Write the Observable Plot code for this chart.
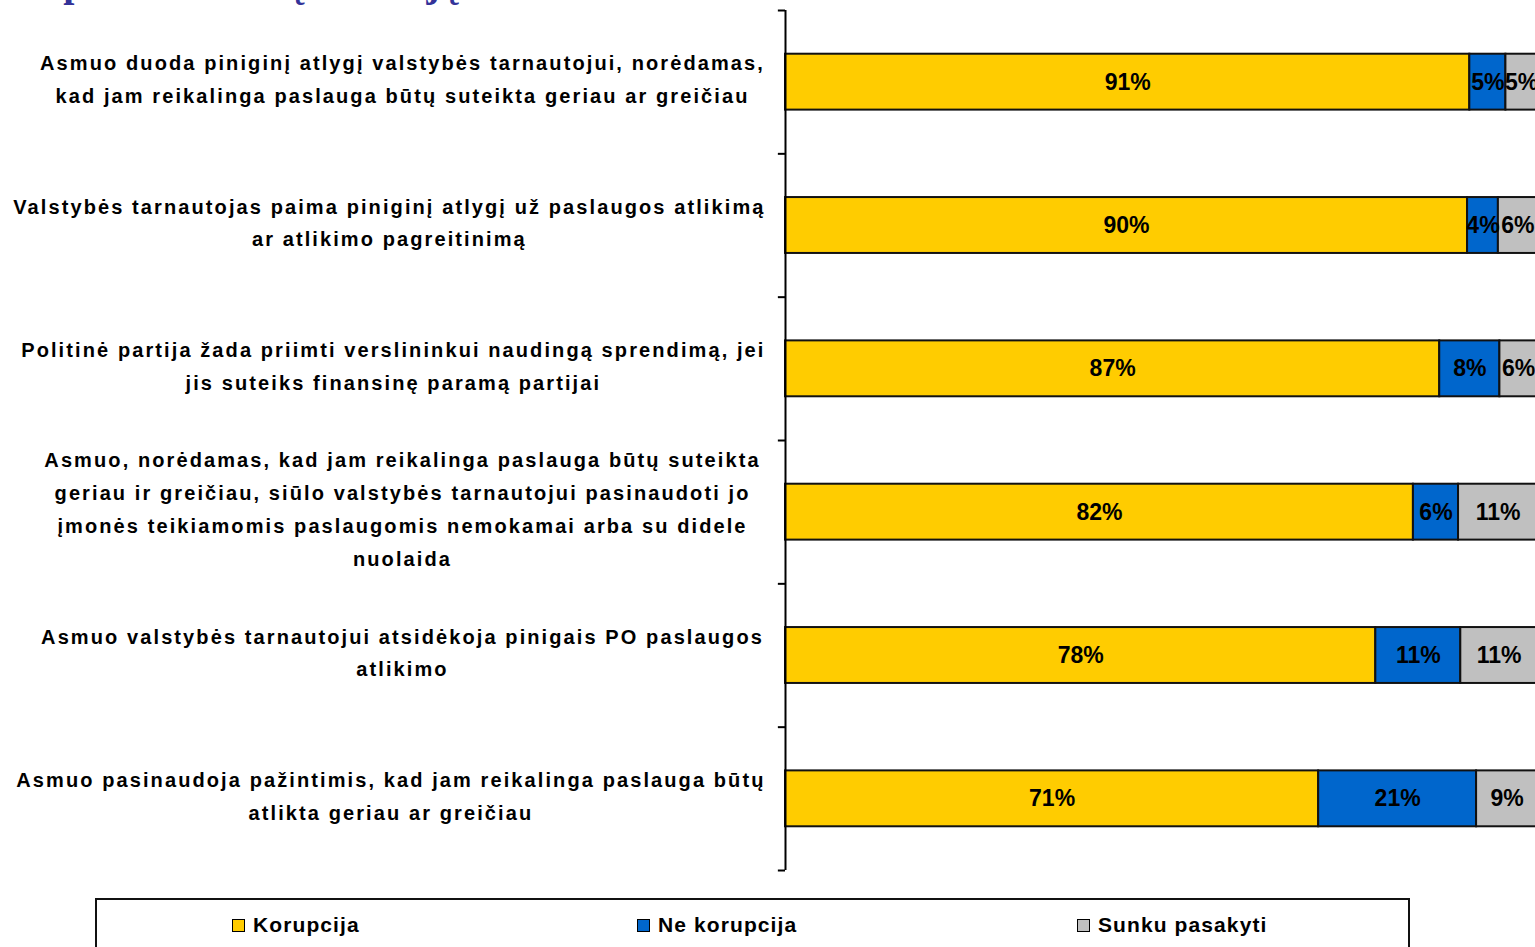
<!DOCTYPE html>
<html>
<head>
<meta charset="utf-8">
<script src="https://cdn.jsdelivr.net/npm/d3@7"></script>
<script src="https://cdn.jsdelivr.net/npm/@observablehq/plot@0.6"></script>
<style>
  html, body { margin: 0; padding: 0; background: #fff; overflow: hidden; }
  #wrap { position: relative; width: 1535px; height: 947px; overflow: hidden; font-family: "Liberation Sans", Arial, sans-serif; }
  #title { position: absolute; left: 1px; top: -37px; font: bold 40px/40px "Liberation Serif", "Times New Roman", serif; color: #333399; white-space: nowrap; }
  #chart { position: absolute; left: 0; top: 0; }
  #chart svg { overflow: visible; }
  #legend { position: absolute; left: 95px; top: 898px; width: 1315px; height: 80px; border: 2px solid #111; box-sizing: border-box; }
  .item { position: absolute; top: 13px; height: 24px; display: flex; align-items: center; font-weight: bold; font-size: 21px; letter-spacing: 1.1px; color: #000; white-space: nowrap; }
  .swatch { width: 11px; height: 11px; border: 1.5px solid #000; margin-right: 8px; }
</style>
</head>
<body>
<div id="wrap">
  <div id="title"></div>
  <div id="chart"></div>
  <div id="legend"></div>
</div>
<script>
const titleText = "Kaip vertinate šią situaciją?";

const categories = [
  "Asmuo duoda piniginį atlygį valstybės tarnautojui, norėdamas,\nkad jam reikalinga paslauga būtų suteikta geriau ar greičiau",
  "Valstybės tarnautojas paima piniginį atlygį už paslaugos atlikimą\nar atlikimo pagreitinimą",
  "Politinė partija žada priimti verslininkui naudingą sprendimą, jei\njis suteiks finansinę paramą partijai",
  "Asmuo, norėdamas, kad jam reikalinga paslauga būtų suteikta\ngeriau ir greičiau, siūlo valstybės tarnautojui pasinaudoti jo\nįmonės teikiamomis paslaugomis nemokamai arba su didele\nnuolaida",
  "Asmuo valstybės tarnautojui atsidėkoja pinigais PO paslaugos\natlikimo",
  "Asmuo pasinaudoja pažintimis, kad jam reikalinga paslauga būtų\natlikta geriau ar greičiau"
];

const seriesNames = ["Korupcija", "Ne korupcija", "Sunku pasakyti"];
const seriesColors = ["#FFCC00", "#0066CC", "#C0C0C0"];

// bar shares (100% stacked, as drawn)
const korupcijaShare   = [91.0, 90.7, 87.0, 83.5, 78.5, 70.9];
const neKorupcijaShare = [4.8, 4.1, 8.0, 6.0, 11.3, 21.0];
const sunkuShare       = [4.2, 5.2, 5.0, 10.5, 10.2, 8.1];

// printed data labels (%)
const korupcijaLabel   = [91, 90, 87, 82, 78, 71];
const neKorupcijaLabel = [5, 4, 8, 6, 11, 21];
const sunkuLabel       = [5, 6, 6, 11, 11, 9];

const shares = [korupcijaShare, neKorupcijaShare, sunkuShare];
const labels = [korupcijaLabel, neKorupcijaLabel, sunkuLabel];

const rows = [];
categories.forEach((c, i) => {
  seriesNames.forEach((s, k) => {
    rows.push({category: c, series: s, share: shares[k][i], label: labels[k][i]});
  });
});

document.getElementById("title").textContent = titleText;

const W = 1535, H = 885, mT = 10, mB = 15, mL = 785;
const labelDx = -383;         // label centre relative to the axis
const labelRightLimit = 765;  // labels never run past this edge
const step = (H - mT - mB) / categories.length;
const font = "'Liberation Sans', Arial, sans-serif";

const chart = Plot.plot({
  width: W,
  height: H,
  marginLeft: mL,
  marginRight: -2,
  marginTop: mT,
  marginBottom: mB,
  style: {fontFamily: font, background: "transparent", color: "#000"},
  x: {domain: [0, 100], axis: null},
  y: {domain: categories, paddingInner: 0.61, paddingOuter: 0.305, round: false, axis: null},
  color: {domain: seriesNames, range: seriesColors},
  marks: [
    Plot.barX(rows, {x: "share", y: "category", fill: "series", stroke: "#111", strokeWidth: 2}),
    Plot.text(rows, Plot.stackX({
      x: "share", y: "category", z: "series",
      text: d => d.label + "%",
      fontSize: 23, fontWeight: "bold", fill: "#000"
    })),
    Plot.text(categories, {
      y: d => d, text: d => d,
      frameAnchor: "left", dx: labelDx, dy: -6, textAnchor: "middle",
      lineHeight: 1.64, fontSize: 20, fontWeight: "bold", fill: "#000"
    }),
    Plot.ruleX([0], {stroke: "#000", strokeWidth: 2}),
    Plot.ruleY(categories, {y: d => d, x1: -0.95, x2: 0, dy: -step / 2, stroke: "#000", strokeWidth: 2}),
    Plot.ruleY(categories.slice(-1), {y: d => d, x1: -0.95, x2: 0, dy: step / 2, stroke: "#000", strokeWidth: 2})
  ]
});
document.getElementById("chart").appendChild(chart);

// letter spacing on the multi-line category labels; shift a whole label left if its widest line would pass the limit
const centre = mL + labelDx;
d3.select(chart).selectAll("text")
  .filter(function() { return this.querySelector("tspan") !== null; })
  .style("letter-spacing", "2.1px")
  .each(function() {
    const spans = d3.select(this).selectAll("tspan");
    let maxW = 0;
    spans.each(function() { maxW = Math.max(maxW, this.getComputedTextLength()); });
    const over = centre + maxW / 2 - labelRightLimit;
    if (over > 0) spans.attr("x", -over);
  });

// legend
const legendLeft = [232, 637, 1077];
const legend = d3.select("#legend");
seriesNames.forEach((s, k) => {
  const item = legend.append("div").attr("class", "item").style("left", (legendLeft[k] - 97) + "px");
  item.append("div").attr("class", "swatch").style("background", seriesColors[k]);
  item.append("span").text(s);
});
</script>
</body>
</html>
